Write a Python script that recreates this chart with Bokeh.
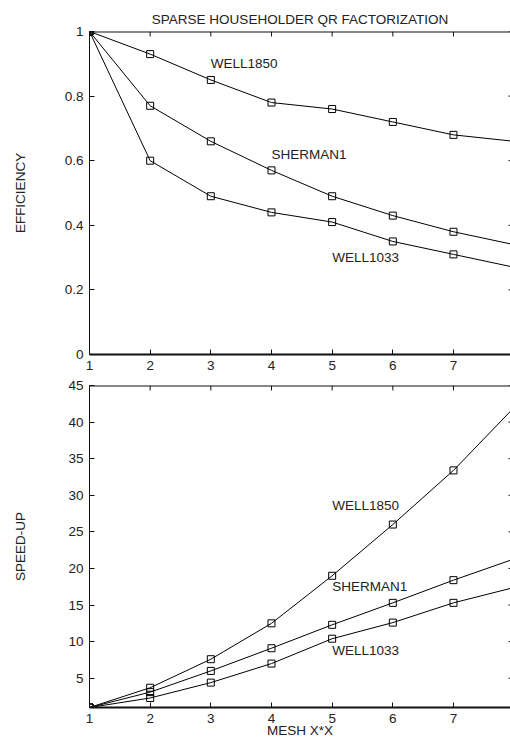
import math
from bokeh.plotting import figure
from bokeh.layouts import column
from bokeh.models import LinearAxis, FixedTicker, Range1d, Span
from bokeh.core.properties import value
from bokeh.embed import file_html
from bokeh.resources import INLINE

# ---------------- data ----------------
mesh = [1, 2, 3, 4, 5, 6, 7, 8]

eff_well1850 = [1.00, 0.93, 0.85, 0.78, 0.76, 0.72, 0.68, 0.66]
eff_sherman1 = [1.00, 0.77, 0.66, 0.57, 0.49, 0.43, 0.38, 0.34]
eff_well1033 = [1.00, 0.60, 0.49, 0.44, 0.41, 0.35, 0.31, 0.27]

spd_well1850 = [1.0, 3.7, 7.6, 12.5, 19.0, 26.0, 33.4, 42.0]
spd_sherman1 = [1.0, 3.1, 6.0, 9.1, 12.3, 15.3, 18.4, 21.3]
spd_well1033 = [1.0, 2.3, 4.4, 7.0, 10.4, 12.6, 15.3, 17.4]

series_names = ["WELL1850", "SHERMAN1", "WELL1033"]

eff_ticks = [0, 0.2, 0.4, 0.6, 0.8, 1]
spd_ticks = [5, 10, 15, 20, 25, 30, 35, 40, 45]

title_text = "SPARSE HOUSEHOLDER QR FACTORIZATION"
eff_label = "EFFICIENCY"
spd_label = "SPEED-UP"
x_label = "MESH X*X"

# label anchor points (data coordinates)
eff_label_x = [3, 4, 5]
eff_label_y = [0.90, 0.62, 0.30]
spd_label_x = [5, 5, 5]
spd_label_y = [28.6, 17.6, 8.8]

FONT = "Liberation Sans"
FS = "13.5px"
TXT = "#222222"
LINE = "#111111"
X_START, X_END = 1, 7.94
EFF_START, EFF_END = 0, 1
SPD_START, SPD_END = 1, 45


def tick_axis(ticks, line_width=1):
    return LinearAxis(
        ticker=FixedTicker(ticks=ticks),
        major_tick_in=5,
        major_tick_out=0,
        minor_tick_in=0,
        minor_tick_out=0,
        axis_line_width=line_width,
        axis_line_color=LINE,
        major_tick_line_color=LINE,
        major_label_text_font=FONT,
        major_label_text_font_size=FS,
        major_label_text_color=TXT,
        axis_label_text_font=FONT,
        axis_label_text_font_size=FS,
        axis_label_text_font_style="normal",
        axis_label_text_color=TXT,
    )


def inner_ticks(p, y_top, y_ticks):
    # inward tick marks on the top and right frame edges
    p.ray(x=mesh, y=[y_top] * len(mesh), length=5, length_units="screen",
          angle=-math.pi / 2, line_color=LINE, line_width=1)
    p.ray(x=[X_END] * len(y_ticks), y=y_ticks, length=2, length_units="screen",
          angle=math.pi, line_color=LINE, line_width=1)


def add_series(p, ys_list, lx, ly):
    for ys in ys_list:
        p.line(mesh, ys, line_color="black", line_width=1)
        p.scatter(mesh, ys, marker="square", size=7, fill_alpha=0,
                  line_color="black", line_width=1)
    p.text(x=lx, y=ly, text=series_names, text_font=value(FONT),
           text_font_size=value(FS), text_color=TXT,
           text_align="left", text_baseline="middle")


# ---------------- top: efficiency ----------------
p1 = figure(width=510, height=377, x_range=Range1d(X_START, X_END),
            y_range=Range1d(EFF_START, EFF_END),
            x_axis_type=None, y_axis_type=None, output_backend="svg",
            toolbar_location=None, title=title_text,
            min_border_left=89, min_border_right=0, min_border_top=31, min_border_bottom=23)
p1.title.align = "center"
p1.title.text_font = FONT
p1.title.text_font_size = FS
p1.title.text_font_style = "normal"
p1.title.text_color = TXT
p1.title.standoff = 10
p1.outline_line_color = None

ax = tick_axis(mesh, line_width=2)
ax.major_label_standoff = 6
p1.add_layout(ax, "below")
p1.add_layout(Span(location=EFF_END, dimension="width", line_color=LINE, line_width=2))
ay = tick_axis(eff_ticks)
ay.major_label_standoff = 6
ay.major_label_overrides = {0: "0", 1: "1"}
ay.axis_label = eff_label
ay.axis_label_standoff = 34
p1.add_layout(ay, "left")
inner_ticks(p1, EFF_END, eff_ticks)

add_series(p1, [eff_well1850, eff_sherman1, eff_well1033], eff_label_x, eff_label_y)

# ---------------- bottom: speed-up ----------------
p2 = figure(width=510, height=363, x_range=Range1d(X_START, X_END),
            y_range=Range1d(SPD_START, SPD_END),
            x_axis_type=None, y_axis_type=None, output_backend="svg",
            toolbar_location=None,
            min_border_left=89, min_border_right=0, min_border_top=8, min_border_bottom=0)
p2.outline_line_color = None

ax = tick_axis(mesh, line_width=2)
ax.major_label_standoff = 6
ax.axis_label = x_label
ax.axis_label_standoff = -3
p2.add_layout(ax, "below")
p2.add_layout(Span(location=SPD_END, dimension="width", line_color=LINE, line_width=2))
ay = tick_axis(spd_ticks)
ay.major_label_standoff = 6
ay.axis_label = spd_label
ay.axis_label_standoff = 37
p2.add_layout(ay, "left")
inner_ticks(p2, SPD_END, spd_ticks)

add_series(p2, [spd_well1850, spd_sherman1, spd_well1033], spd_label_x, spd_label_y)

layout = column(p1, p2, spacing=0)
open("out.html", "w").write(file_html(layout, INLINE))
